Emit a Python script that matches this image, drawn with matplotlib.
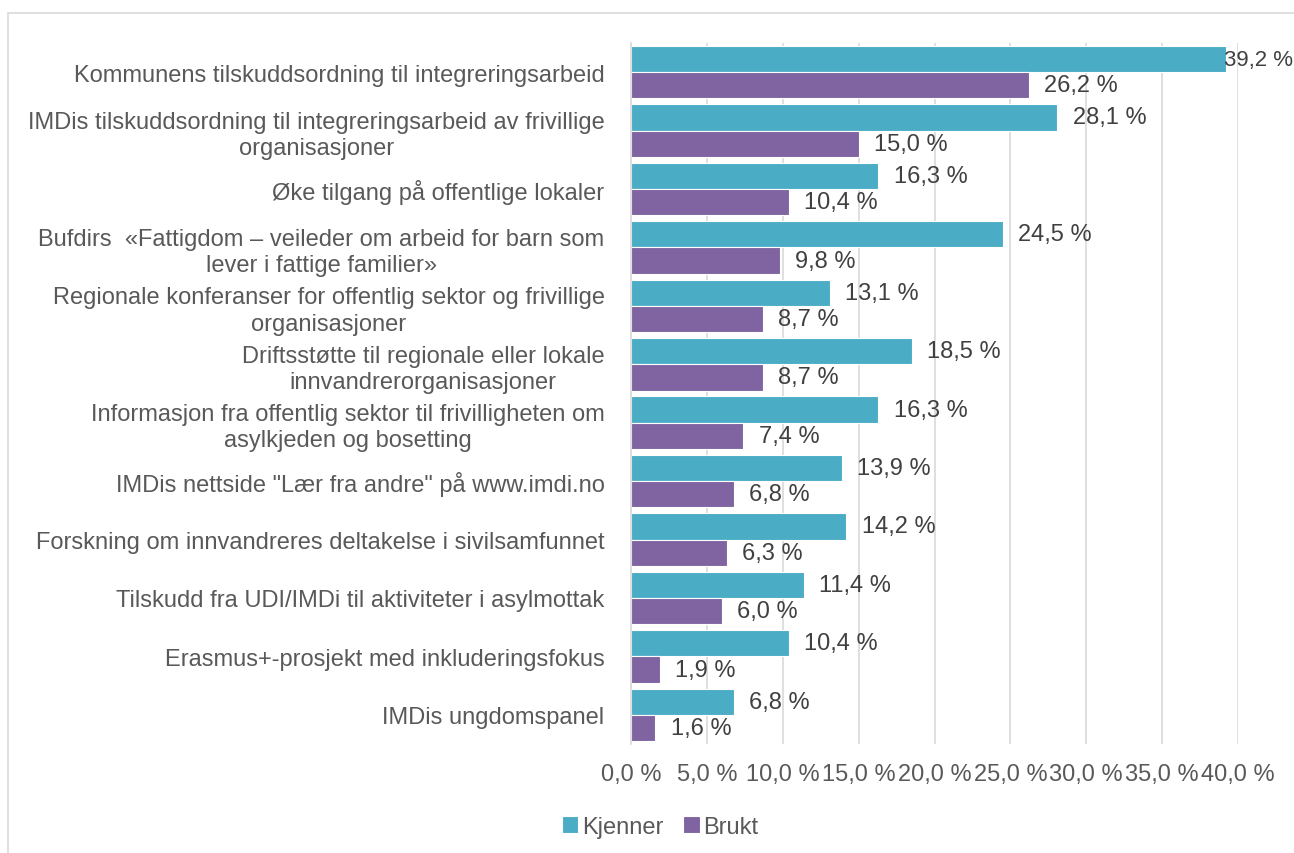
import matplotlib.pyplot as plt
import numpy as np
from matplotlib.patches import Rectangle

plt.rcParams['font.family'] = ['Liberation Sans', 'DejaVu Sans']

categories = [
    "Kommunens tilskuddsordning til integreringsarbeid",
    "IMDis tilskuddsordning til integreringsarbeid av frivillige\norganisasjoner",
    "Øke tilgang på offentlige lokaler",
    "Bufdirs  «Fattigdom – veileder om arbeid for barn som\nlever i fattige familier»",
    "Regionale konferanser for offentlig sektor og frivillige\norganisasjoner",
    "Driftsstøtte til regionale eller lokale\ninnvandrerorganisasjoner",
    "Informasjon fra offentlig sektor til frivilligheten om\nasylkjeden og bosetting",
    'IMDis nettside "Lær fra andre" på www.imdi.no',
    "Forskning om innvandreres deltakelse i sivilsamfunnet",
    "Tilskudd fra UDI/IMDi til aktiviteter i asylmottak",
    "Erasmus+-prosjekt med inkluderingsfokus",
    "IMDis ungdomspanel",
]
kjenner = [39.2, 28.1, 16.3, 24.5, 13.1, 18.5, 16.3, 13.9, 14.2, 11.4, 10.4, 6.8]
brukt = [26.2, 15.0, 10.4, 9.8, 8.7, 8.7, 7.4, 6.8, 6.3, 6.0, 1.9, 1.6]
ticks = [0, 5, 10, 15, 20, 25, 30, 35, 40]

teal = "#4BACC6"
purple = "#8064A2"
txt = "#595959"
fs = 17

fig = plt.figure(figsize=(12.94, 8.54), dpi=100)
fig.patches.append(Rectangle((8 / 1294, -0.2), 1.2, 1.2 - 14 / 854, transform=fig.transFigure,
                             fill=False, edgecolor="#D9D9D9", lw=1.2))
ax = fig.add_axes([631 / 1294, 1 - 745 / 854, (1238 - 631) / 1294, (745 - 44) / 854])

n = len(categories)
y = np.arange(n)
h = 0.45
ax.barh(y - h / 2, kjenner, height=h, color=teal, edgecolor="white", lw=0.8, label="Kjenner", zorder=2)
ax.barh(y + h / 2, brukt, height=h, color=purple, edgecolor="white", lw=0.8, label="Brukt", zorder=2)

ax.set_ylim(n - 0.5, -0.5)
ax.set_xlim(0, 40)
ax.set_xticks(ticks)
ax.set_xticklabels([f"{t:.1f} %".replace(".", ",") for t in ticks], fontsize=fs, color=txt)
ax.set_yticks(y)
ax.set_yticklabels(categories, fontsize=fs, color=txt, multialignment="center", linespacing=1.25)
ax.tick_params(axis="both", length=0)
ax.tick_params(axis="y", pad=19)
ax.tick_params(axis="x", pad=14)
ax.grid(axis="x", color="#D9D9D9", lw=1.2, zorder=0)
for s in ["top", "right", "bottom"]:
    ax.spines[s].set_visible(False)
ax.spines["left"].set_color("#D9D9D9")
ax.spines["left"].set_linewidth(1.2)

for vals, off in [(kjenner, -h / 2), (brukt, h / 2)]:
    for i, v in enumerate(vals):
        lab = f"{v:.1f} %".replace(".", ",")
        if v > 38:
            # Excel pulls the top label back so it fits inside the chart area
            ax.annotate(lab, (v, i + off), xytext=(-1, 0), textcoords="offset points",
                        va="center", ha="left", fontsize=16, color="#404040")
        else:
            ax.annotate(lab, (v, i + off), xytext=(11, 0), textcoords="offset points",
                        va="center", ha="left", fontsize=fs, color="#404040")

fig.legend(loc="center", bbox_to_anchor=(0.51, 1 - 828 / 854), ncol=2, frameon=False,
           fontsize=fs, labelcolor=txt, handlelength=0.7, handleheight=0.7,
           handletextpad=0.15, columnspacing=0.85)

fig.savefig("out.png", dpi=100)
